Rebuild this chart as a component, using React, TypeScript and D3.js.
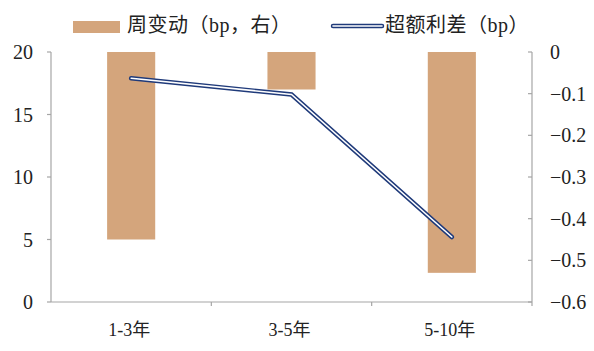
import React from "react";
import * as d3 from "d3";

const categories = ["1-3年", "3-5年", "5-10年"];
const weeklyChange = [-0.45, -0.09, -0.53]; // bars, right axis
const excessSpread = [17.9, 16.6, 5.2]; // line, left axis
const leftTicks = [0, 5, 10, 15, 20];
const rightTicks = [0, -0.1, -0.2, -0.3, -0.4, -0.5, -0.6];
const legendBar = "周变动（bp，右）";
const legendLine = "超额利差（bp）";

const W = 594, H = 351;
const left = 51, right = 532, top = 52, bottom = 302;
const barColor = "#D4A57C";
const lineColor = "#1F3A7A";
const axisColor = "#A6A6A6";
const textColor = "#222";
const font = "'Liberation Serif', 'Noto Sans CJK SC', serif";

export default function App() {
  const x = d3.scaleBand<string>().domain(categories).range([left, right]).paddingInner(0).paddingOuter(0);
  const yL = d3.scaleLinear().domain([0, 20]).range([bottom, top]);
  const yR = d3.scaleLinear().domain([-0.6, 0]).range([bottom, top]);
  const bw = x.bandwidth() * 0.3;
  const cx = (c: string) => (x(c) as number) + x.bandwidth() / 2;
  const line = d3.line<number>().x((_, i) => cx(categories[i])).y((v) => yL(v));
  const path = line(excessSpread) || "";
  return (
    <svg width={W} height={H} style={{ position: "absolute", left: 0, top: 0, background: "#fff" }} fontFamily={font}>
      {/* bars */}
      {categories.map((c, i) => (
        <rect key={c} x={cx(c) - bw / 2} y={yR(0)} width={bw} height={yR(weeklyChange[i]) - yR(0)} fill={barColor} />
      ))}
      {/* axes */}
      <line x1={left} x2={left} y1={top} y2={bottom} stroke={axisColor} strokeWidth={1.2} />
      <line x1={right} x2={right} y1={top} y2={bottom} stroke={axisColor} strokeWidth={1.2} />
      <line x1={left} x2={right} y1={bottom} y2={bottom} stroke={axisColor} strokeWidth={1.2} />
      {leftTicks.map((t) => (
        <g key={"l" + t}>
          <line x1={left - 4} x2={left} y1={yL(t)} y2={yL(t)} stroke={axisColor} strokeWidth={1.2} />
          <text x={33} y={yL(t)} dy="0.35em" textAnchor="end" fontSize={20} fill={textColor}>{t}</text>
        </g>
      ))}
      {rightTicks.map((t) => (
        <g key={"r" + t}>
          <line x1={right - 4} x2={right} y1={yR(t)} y2={yR(t)} stroke={axisColor} strokeWidth={1.2} />
          <text x={550} y={yR(t)} dy="0.35em" textAnchor="start" fontSize={20} fill={textColor}>{t === 0 ? "0" : d3.format(".1f")(t)}</text>
        </g>
      ))}
      {categories.map((c) => (
        <line key={"t" + c} x1={(x(c) as number) + x.bandwidth()} x2={(x(c) as number) + x.bandwidth()} y1={bottom} y2={bottom + 4} stroke={axisColor} strokeWidth={1.2} />
      ))}
      {categories.map((c) => (
        <text key={"x" + c} x={cx(c) - 2} y={330} dy="0.35em" textAnchor="middle" fontSize={18} fill={textColor}>{c}</text>
      ))}
      {/* line: double stroke */}
      <path d={path} fill="none" stroke={lineColor} strokeWidth={4.5} strokeLinejoin="miter" strokeLinecap="round" />
      <path d={path} fill="none" stroke="#fff" strokeWidth={1.6} strokeLinejoin="miter" strokeLinecap="round" />
      {/* legend */}
      <rect x={73} y={21} width={47} height={12} fill={barColor} />
      <text x={127} y={25} dy="0.35em" fontSize={20} letterSpacing={0.5} fill={textColor}>{legendBar}</text>
      <line x1={333} x2={382} y1={26} y2={26} stroke={lineColor} strokeWidth={4.5} strokeLinecap="round" />
      <line x1={333} x2={382} y1={26} y2={26} stroke="#fff" strokeWidth={1.6} strokeLinecap="round" />
      <text x={385} y={25} dy="0.35em" fontSize={20} letterSpacing={0.5} fill={textColor}>{legendLine}</text>
    </svg>
  );
}
